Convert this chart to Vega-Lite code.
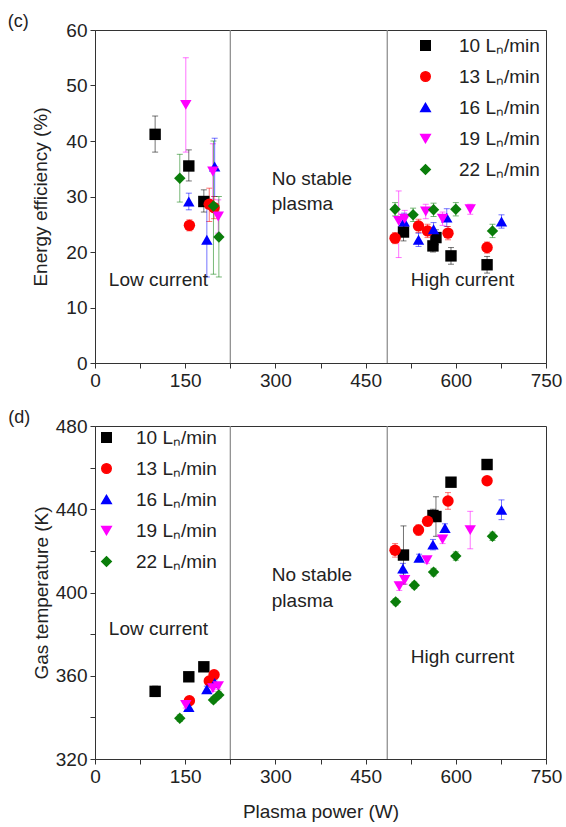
{
  "$schema": "https://vega.github.io/schema/vega-lite/v6.json",
  "padding": {"left": 7, "top": 12, "right": 4, "bottom": 2},
  "background": "white",
  "config": {
    "font": "Liberation Sans",
    "view": {"stroke": "#333", "strokeWidth": 1},
    "axis": {"grid": false, "labelFont": "Liberation Sans", "titleFont": "Liberation Sans", "labelFontSize": 19, "titleFontSize": 19, "titleFontWeight": "normal", "labelColor": "#222", "titleColor": "#222", "domainColor": "#333", "tickColor": "#333", "tickSize": 5, "labelPadding": 3, "labelFlush": false, "labelOverlap": false},
    "legend": {"labelFont": "Liberation Sans", "labelFontSize": 19, "labelColor": "#222", "symbolOpacity": 1},
    "title": {"font": "Liberation Sans", "fontSize": 18, "fontWeight": "normal", "color": "#222"}
  },
  "datasets": {
    "eff": [
      {"flow": "10 Lₙ/min", "P": 100, "v": 41.2, "lo": 38.0, "hi": 44.5},
      {"flow": "10 Lₙ/min", "P": 156, "v": 35.5, "lo": 32.8, "hi": 38.4},
      {"flow": "10 Lₙ/min", "P": 181, "v": 29.1, "lo": 27.2, "hi": 31.2},
      {"flow": "10 Lₙ/min", "P": 513, "v": 23.6, "lo": 22.0, "hi": 25.2},
      {"flow": "10 Lₙ/min", "P": 562, "v": 21.1, "lo": 20.0, "hi": 22.3},
      {"flow": "10 Lₙ/min", "P": 567, "v": 22.6, "lo": 21.3, "hi": 24.0},
      {"flow": "10 Lₙ/min", "P": 592, "v": 19.3, "lo": 17.8, "hi": 20.8},
      {"flow": "10 Lₙ/min", "P": 652, "v": 17.7, "lo": 16.2, "hi": 19.2},
      {"flow": "13 Lₙ/min", "P": 157, "v": 24.8, "lo": 23.8, "hi": 25.8},
      {"flow": "13 Lₙ/min", "P": 190, "v": 28.6, "lo": 25.5, "hi": 31.5},
      {"flow": "13 Lₙ/min", "P": 198, "v": 28.0, "lo": 26.0, "hi": 30.0},
      {"flow": "13 Lₙ/min", "P": 499, "v": 22.5, "lo": 21.5, "hi": 23.5},
      {"flow": "13 Lₙ/min", "P": 538, "v": 24.7, "lo": 23.5, "hi": 25.9},
      {"flow": "13 Lₙ/min", "P": 553, "v": 23.8, "lo": 22.6, "hi": 25.0},
      {"flow": "13 Lₙ/min", "P": 587, "v": 23.4, "lo": 22.2, "hi": 24.6},
      {"flow": "13 Lₙ/min", "P": 652, "v": 20.8, "lo": 19.8, "hi": 21.8},
      {"flow": "16 Lₙ/min", "P": 156, "v": 29.1, "lo": 27.6, "hi": 30.6},
      {"flow": "16 Lₙ/min", "P": 186, "v": 22.2, "lo": 15.5, "hi": 28.9},
      {"flow": "16 Lₙ/min", "P": 199, "v": 35.4, "lo": 30.0, "hi": 40.5},
      {"flow": "16 Lₙ/min", "P": 514, "v": 25.5, "lo": 24.0, "hi": 27.0},
      {"flow": "16 Lₙ/min", "P": 538, "v": 22.2, "lo": 21.0, "hi": 23.4},
      {"flow": "16 Lₙ/min", "P": 563, "v": 24.1, "lo": 22.9, "hi": 25.3},
      {"flow": "16 Lₙ/min", "P": 585, "v": 26.2, "lo": 24.6, "hi": 27.8},
      {"flow": "16 Lₙ/min", "P": 676, "v": 25.5, "lo": 24.3, "hi": 26.7},
      {"flow": "19 Lₙ/min", "P": 151, "v": 46.5, "lo": 38.0, "hi": 55.0},
      {"flow": "19 Lₙ/min", "P": 196, "v": 34.5, "lo": 29.5, "hi": 39.5},
      {"flow": "19 Lₙ/min", "P": 205, "v": 26.4, "lo": 23.4, "hi": 29.4},
      {"flow": "19 Lₙ/min", "P": 505, "v": 25.6, "lo": 19.0, "hi": 31.0},
      {"flow": "19 Lₙ/min", "P": 515, "v": 26.0, "lo": 24.5, "hi": 27.5},
      {"flow": "19 Lₙ/min", "P": 550, "v": 27.3, "lo": 26.0, "hi": 28.6},
      {"flow": "19 Lₙ/min", "P": 578, "v": 26.0, "lo": 24.8, "hi": 27.2},
      {"flow": "19 Lₙ/min", "P": 624, "v": 27.7, "lo": 26.8, "hi": 28.6},
      {"flow": "22 Lₙ/min", "P": 141, "v": 33.3, "lo": 29.0, "hi": 37.6},
      {"flow": "22 Lₙ/min", "P": 197, "v": 28.3, "lo": 16.0, "hi": 40.0},
      {"flow": "22 Lₙ/min", "P": 206, "v": 22.7, "lo": 15.5, "hi": 30.0},
      {"flow": "22 Lₙ/min", "P": 499, "v": 27.7, "lo": 26.5, "hi": 28.9},
      {"flow": "22 Lₙ/min", "P": 529, "v": 26.7, "lo": 25.5, "hi": 27.9},
      {"flow": "22 Lₙ/min", "P": 563, "v": 27.6, "lo": 26.4, "hi": 28.8},
      {"flow": "22 Lₙ/min", "P": 600, "v": 27.7, "lo": 26.5, "hi": 28.9},
      {"flow": "22 Lₙ/min", "P": 661, "v": 23.8, "lo": 22.6, "hi": 25.0}
    ],
    "temp": [
      {"flow": "10 Lₙ/min", "P": 100, "v": 352.5, "lo": 350.0, "hi": 355.0},
      {"flow": "10 Lₙ/min", "P": 156, "v": 359.5, "lo": 358.0, "hi": 361.0},
      {"flow": "10 Lₙ/min", "P": 181, "v": 364.3, "lo": 363.0, "hi": 365.5},
      {"flow": "10 Lₙ/min", "P": 513, "v": 418.0, "lo": 404.0, "hi": 432.0},
      {"flow": "10 Lₙ/min", "P": 562, "v": 437.0, "lo": 434.0, "hi": 440.0},
      {"flow": "10 Lₙ/min", "P": 567, "v": 436.5, "lo": 427.0, "hi": 446.0},
      {"flow": "10 Lₙ/min", "P": 592, "v": 453.0, "lo": 451.5, "hi": 454.5},
      {"flow": "10 Lₙ/min", "P": 652, "v": 461.5, "lo": 460.0, "hi": 463.0},
      {"flow": "13 Lₙ/min", "P": 157, "v": 348.0, "lo": 346.5, "hi": 349.5},
      {"flow": "13 Lₙ/min", "P": 190, "v": 357.5, "lo": 356.0, "hi": 359.0},
      {"flow": "13 Lₙ/min", "P": 198, "v": 360.5, "lo": 359.0, "hi": 362.0},
      {"flow": "13 Lₙ/min", "P": 499, "v": 420.3, "lo": 417.0, "hi": 423.5},
      {"flow": "13 Lₙ/min", "P": 538, "v": 430.0, "lo": 427.5, "hi": 432.5},
      {"flow": "13 Lₙ/min", "P": 553, "v": 434.2, "lo": 432.0, "hi": 436.4},
      {"flow": "13 Lₙ/min", "P": 587, "v": 444.0, "lo": 440.0, "hi": 448.0},
      {"flow": "13 Lₙ/min", "P": 652, "v": 453.7, "lo": 452.0, "hi": 455.4},
      {"flow": "16 Lₙ/min", "P": 156, "v": 345.0, "lo": 343.5, "hi": 346.5},
      {"flow": "16 Lₙ/min", "P": 186, "v": 353.5, "lo": 352.0, "hi": 355.0},
      {"flow": "16 Lₙ/min", "P": 199, "v": 356.5, "lo": 355.0, "hi": 358.0},
      {"flow": "16 Lₙ/min", "P": 512, "v": 411.5, "lo": 409.0, "hi": 414.0},
      {"flow": "16 Lₙ/min", "P": 539, "v": 416.7, "lo": 415.0, "hi": 418.4},
      {"flow": "16 Lₙ/min", "P": 562, "v": 423.0, "lo": 420.5, "hi": 425.5},
      {"flow": "16 Lₙ/min", "P": 582, "v": 431.0, "lo": 429.0, "hi": 433.0},
      {"flow": "16 Lₙ/min", "P": 676, "v": 439.7, "lo": 435.0, "hi": 444.5},
      {"flow": "19 Lₙ/min", "P": 151, "v": 346.0, "lo": 344.5, "hi": 347.5},
      {"flow": "19 Lₙ/min", "P": 196, "v": 354.0, "lo": 352.5, "hi": 355.5},
      {"flow": "19 Lₙ/min", "P": 205, "v": 355.0, "lo": 353.5, "hi": 356.5},
      {"flow": "19 Lₙ/min", "P": 506, "v": 403.0, "lo": 401.0, "hi": 405.0},
      {"flow": "19 Lₙ/min", "P": 515, "v": 406.0, "lo": 404.0, "hi": 408.0},
      {"flow": "19 Lₙ/min", "P": 552, "v": 415.5, "lo": 414.0, "hi": 417.0},
      {"flow": "19 Lₙ/min", "P": 578, "v": 425.5, "lo": 423.5, "hi": 427.5},
      {"flow": "19 Lₙ/min", "P": 624, "v": 430.0, "lo": 421.0, "hi": 439.0},
      {"flow": "22 Lₙ/min", "P": 141, "v": 339.6, "lo": 338.0, "hi": 341.2},
      {"flow": "22 Lₙ/min", "P": 197, "v": 348.4, "lo": 347.0, "hi": 349.8},
      {"flow": "22 Lₙ/min", "P": 206, "v": 350.8, "lo": 349.4, "hi": 352.2},
      {"flow": "22 Lₙ/min", "P": 500, "v": 395.5, "lo": 394.0, "hi": 397.0},
      {"flow": "22 Lₙ/min", "P": 531, "v": 403.5, "lo": 402.0, "hi": 405.0},
      {"flow": "22 Lₙ/min", "P": 563, "v": 409.8, "lo": 408.0, "hi": 411.6},
      {"flow": "22 Lₙ/min", "P": 600, "v": 417.5, "lo": 415.5, "hi": 419.5},
      {"flow": "22 Lₙ/min", "P": 661, "v": 427.0, "lo": 425.0, "hi": 429.0}
    ],
    "bounds": [{"P": 225}, {"P": 486}],
    "notesC": [
      {"P": 23, "v": 15, "label": "Low current"},
      {"P": 294, "v": 33.2, "label": "No stable"},
      {"P": 294, "v": 28.7, "label": "plasma"},
      {"P": 525, "v": 15, "label": "High current"}
    ],
    "notesD": [
      {"P": 23, "v": 382.4, "label": "Low current"},
      {"P": 294, "v": 408.5, "label": "No stable"},
      {"P": 294, "v": 396.0, "label": "plasma"},
      {"P": 525, "v": 369.2, "label": "High current"}
    ]
  },
  "spacing": 17,
  "resolve": {"scale": {"color": "independent", "shape": "independent"}},
  "vconcat": [
    {
      "width": 451,
      "height": 333,
      "title": {"text": "(c)", "anchor": "start", "frame": "bounds", "dx": -24, "offset": -10},
      "encoding": {
        "x": {"field": "P", "type": "quantitative", "scale": {"domain": [0, 750], "nice": false},
          "axis": {"title": null, "values": [0, 75, 150, 225, 300, 375, 450, 525, 600, 675, 750], "labelExpr": "datum.value % 150 == 0 ? datum.label : ''"}}
      },
      "layer": [
        {
          "data": {"name": "bounds"},
          "mark": {"type": "rule", "color": "#888", "strokeWidth": 1.2},
          "encoding": {}
        },
        {
          "data": {"name": "eff"},
          "mark": {"type": "errorbar", "ticks": {"size": 6, "opacity": 0.55}, "rule": {"opacity": 0.55}},
          "encoding": {
            "y": {"field": "lo", "type": "quantitative", "scale": {"domain": [0, 60], "nice": false},
              "axis": {"title": "Energy efficiency (%)", "titlePadding": 15, "values": [0, 5, 10, 15, 20, 25, 30, 35, 40, 45, 50, 55, 60], "labelExpr": "datum.value % 10 == 0 ? datum.label : ''"}},
            "y2": {"field": "hi"},
            "color": {"field": "flow", "type": "nominal",
              "scale": {"domain": ["10 Lₙ/min", "13 Lₙ/min", "16 Lₙ/min", "19 Lₙ/min", "22 Lₙ/min"], "range": ["#000000", "#ff0000", "#0000ff", "#ff00ff", "#0a7d0a"]},
              "legend": {"title": null, "orient": "top-right", "offset": 6, "symbolSize": 90, "rowPadding": 11, "labelOffset": 24}}
          }
        },
        {
          "data": {"name": "eff"},
          "mark": {"type": "point", "filled": true, "size": 130, "opacity": 1},
          "encoding": {
            "y": {"field": "v", "type": "quantitative", "scale": {"domain": [0, 60], "nice": false},
              "axis": {"title": "Energy efficiency (%)", "titlePadding": 15, "values": [0, 5, 10, 15, 20, 25, 30, 35, 40, 45, 50, 55, 60], "labelExpr": "datum.value % 10 == 0 ? datum.label : ''"}},
            "color": {"field": "flow", "type": "nominal",
              "scale": {"domain": ["10 Lₙ/min", "13 Lₙ/min", "16 Lₙ/min", "19 Lₙ/min", "22 Lₙ/min"], "range": ["#000000", "#ff0000", "#0000ff", "#ff00ff", "#0a7d0a"]},
              "legend": {"title": null, "orient": "top-right", "offset": 6, "symbolSize": 90, "rowPadding": 11, "labelOffset": 24}},
            "shape": {"field": "flow", "type": "nominal",
              "scale": {"domain": ["10 Lₙ/min", "13 Lₙ/min", "16 Lₙ/min", "19 Lₙ/min", "22 Lₙ/min"], "range": ["square", "circle", "triangle-up", "triangle-down", "diamond"]},
              "legend": {"title": null, "orient": "top-right", "offset": 6, "symbolSize": 90, "rowPadding": 11, "labelOffset": 24}}
          }
        },
        {
          "data": {"name": "notesC"},
          "mark": {"type": "text", "align": "left", "baseline": "middle", "fontSize": 19, "color": "#222"},
          "encoding": {
            "y": {"field": "v", "type": "quantitative"},
            "text": {"field": "label"}
          }
        }
      ]
    },
    {
      "width": 451,
      "height": 333,
      "title": {"text": "(d)", "anchor": "start", "frame": "bounds", "dx": -24, "offset": -10},
      "encoding": {
        "x": {"field": "P", "type": "quantitative", "scale": {"domain": [0, 750], "nice": false},
          "axis": {"title": "Plasma power (W)", "titlePadding": 16, "values": [0, 75, 150, 225, 300, 375, 450, 525, 600, 675, 750], "labelExpr": "datum.value % 150 == 0 ? datum.label : ''"}}
      },
      "layer": [
        {
          "data": {"name": "bounds"},
          "mark": {"type": "rule", "color": "#888", "strokeWidth": 1.2},
          "encoding": {}
        },
        {
          "data": {"name": "temp"},
          "mark": {"type": "errorbar", "ticks": {"size": 6, "opacity": 0.55}, "rule": {"opacity": 0.55}},
          "encoding": {
            "y": {"field": "lo", "type": "quantitative", "scale": {"domain": [320, 480], "nice": false, "zero": false},
              "axis": {"title": "Gas temperature (K)", "titlePadding": 4, "values": [320, 340, 360, 380, 400, 420, 440, 460, 480], "labelExpr": "datum.value % 40 == 0 ? datum.label : ''"}},
            "y2": {"field": "hi"},
            "color": {"field": "flow", "type": "nominal",
              "scale": {"domain": ["10 Lₙ/min", "13 Lₙ/min", "16 Lₙ/min", "19 Lₙ/min", "22 Lₙ/min"], "range": ["#000000", "#ff0000", "#0000ff", "#ff00ff", "#0a7d0a"]},
              "legend": {"title": null, "orient": "top-left", "offset": 2, "symbolSize": 90, "rowPadding": 11, "labelOffset": 20}}
          }
        },
        {
          "data": {"name": "temp"},
          "mark": {"type": "point", "filled": true, "size": 130, "opacity": 1},
          "encoding": {
            "y": {"field": "v", "type": "quantitative", "scale": {"domain": [320, 480], "nice": false, "zero": false},
              "axis": {"title": "Gas temperature (K)", "titlePadding": 4, "values": [320, 340, 360, 380, 400, 420, 440, 460, 480], "labelExpr": "datum.value % 40 == 0 ? datum.label : ''"}},
            "color": {"field": "flow", "type": "nominal",
              "scale": {"domain": ["10 Lₙ/min", "13 Lₙ/min", "16 Lₙ/min", "19 Lₙ/min", "22 Lₙ/min"], "range": ["#000000", "#ff0000", "#0000ff", "#ff00ff", "#0a7d0a"]},
              "legend": {"title": null, "orient": "top-left", "offset": 2, "symbolSize": 90, "rowPadding": 11, "labelOffset": 20}},
            "shape": {"field": "flow", "type": "nominal",
              "scale": {"domain": ["10 Lₙ/min", "13 Lₙ/min", "16 Lₙ/min", "19 Lₙ/min", "22 Lₙ/min"], "range": ["square", "circle", "triangle-up", "triangle-down", "diamond"]},
              "legend": {"title": null, "orient": "top-left", "offset": 2, "symbolSize": 90, "rowPadding": 11, "labelOffset": 20}}
          }
        },
        {
          "data": {"name": "notesD"},
          "mark": {"type": "text", "align": "left", "baseline": "middle", "fontSize": 19, "color": "#222"},
          "encoding": {
            "y": {"field": "v", "type": "quantitative"},
            "text": {"field": "label"}
          }
        }
      ]
    }
  ]
}
